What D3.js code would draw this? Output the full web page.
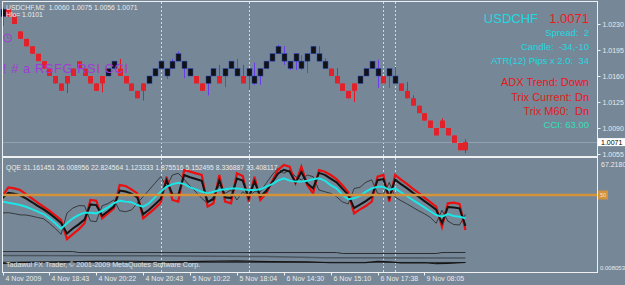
<!DOCTYPE html>
<html>
<head>
<meta charset="utf-8">
<script src="https://cdn.jsdelivr.net/npm/d3@7"></script>
<style>
html, body { margin: 0; padding: 0; background: #768797; }
svg { display: block; font-family: "Liberation Sans", Arial, sans-serif; }
</style>
</head>
<body>
<div id="chart"></div>
<script>
// USDCHF M2 bars (renko-like 10 pip boxes)
var opens = [1.0240,1.0250,1.0240,1.0220,1.0210,1.0200,1.0190,1.0180,1.0170,1.0160,
  1.0150,1.0160,1.0170,1.0180,1.0170,1.0160,1.0150,1.0160,1.0160,1.0170,
  1.0170,1.0160,1.0150,1.0140,1.0150,1.0150,1.0160,1.0170,1.0160,1.0170,
  1.0180,1.0170,1.0160,1.0160,1.0150,1.0150,1.0160,1.0160,1.0160,1.0170,
  1.0160,1.0160,1.0160,1.0150,1.0160,1.0170,1.0180,1.0190,1.0180,1.0170,
  1.0180,1.0170,1.0180,1.0190,1.0180,1.0170,1.0170,1.0160,1.0150,1.0140,
  1.0150,1.0150,1.0160,1.0170,1.0160,1.0160,1.0160,1.0150,1.0150,1.0140,
  1.0130,1.0120,1.0110,1.0100,1.0090,1.0100,1.0090,1.0080,1.0070,1.0071];
var closes = [1.0250,1.0240,1.0230,1.0210,1.0200,1.0190,1.0180,1.0170,1.0160,1.0150,
  1.0140,1.0150,1.0160,1.0170,1.0160,1.0150,1.0140,1.0150,1.0170,1.0180,
  1.0160,1.0150,1.0140,1.0130,1.0140,1.0160,1.0170,1.0180,1.0170,1.0180,
  1.0190,1.0180,1.0170,1.0150,1.0140,1.0160,1.0170,1.0150,1.0170,1.0180,
  1.0170,1.0150,1.0170,1.0160,1.0170,1.0180,1.0190,1.0200,1.0190,1.0180,
  1.0190,1.0180,1.0190,1.0200,1.0190,1.0180,1.0160,1.0150,1.0140,1.0130,
  1.0140,1.0160,1.0170,1.0180,1.0170,1.0150,1.0170,1.0160,1.0140,1.0130,
  1.0120,1.0110,1.0100,1.0090,1.0080,1.0090,1.0080,1.0070,1.0060,1.0060];
var highs = [1.0252,1.0250,1.0243,1.0220,1.0210,1.0200,1.0190,1.0180,1.0170,1.0160,
  1.0150,1.0160,1.0170,1.0180,1.0170,1.0160,1.0150,1.0160,1.0170,1.0180,
  1.0183,1.0160,1.0150,1.0140,1.0150,1.0160,1.0170,1.0180,1.0170,1.0183,
  1.0193,1.0180,1.0170,1.0160,1.0150,1.0160,1.0170,1.0175,1.0170,1.0180,
  1.0183,1.0175,1.0170,1.0178,1.0170,1.0180,1.0190,1.0202,1.0200,1.0180,
  1.0191,1.0188,1.0190,1.0200,1.0200,1.0184,1.0170,1.0171,1.0150,1.0140,
  1.0150,1.0160,1.0170,1.0180,1.0182,1.0160,1.0170,1.0172,1.0150,1.0152,
  1.0134,1.0120,1.0110,1.0100,1.0090,1.0103,1.0090,1.0080,1.0070,1.0075];
var lows = [1.0227,1.0240,1.0230,1.0210,1.0200,1.0190,1.0180,1.0170,1.0160,1.0150,
  1.0140,1.0137,1.0160,1.0170,1.0160,1.0150,1.0140,1.0138,1.0160,1.0170,
  1.0160,1.0150,1.0140,1.0130,1.0127,1.0150,1.0160,1.0170,1.0156,1.0170,
  1.0180,1.0157,1.0160,1.0150,1.0140,1.0134,1.0160,1.0150,1.0145,1.0170,
  1.0160,1.0150,1.0141,1.0148,1.0148,1.0170,1.0180,1.0190,1.0175,1.0168,
  1.0168,1.0168,1.0164,1.0190,1.0180,1.0170,1.0160,1.0150,1.0140,1.0130,
  1.0125,1.0150,1.0160,1.0170,1.0144,1.0150,1.0144,1.0150,1.0140,1.0130,
  1.0120,1.0110,1.0100,1.0090,1.0080,1.0090,1.0080,1.0070,1.0060,1.0056];

// QQE sub window
var qqeRsiMa = [45.2,44.4,43.7,42.7,41.5,39.8,37.9,36.2,33.1,29.5,
  25.6,29.5,33.1,35.5,37.2,37.2,36.7,38.6,41.0,44.0,
  45.9,45.2,44.8,42.7,41.5,44.0,48.3,52.4,56.0,57.9,
  58.9,57.9,55.5,54.1,52.4,51.2,52.4,53.6,54.1,54.8,
  54.8,54.1,53.6,53.6,54.1,56.0,57.9,60.4,62.1,60.4,
  59.7,59.7,60.4,61.4,62.1,60.4,57.2,54.8,50.0,46.9,
  47.6,49.3,52.4,54.8,56.0,56.0,53.6,54.8,51.9,49.3,
  46.4,43.7,41.0,38.2,35.5,34.3,36.2,34.8,34.3,33.1];
var qqeSlow = [47.9,51.6,50.9,49.8,47.5,44.9,42.1,39.6,36.7,33.3,
  29.7,22.1,25.7,28.7,32.2,43.2,42.7,35.0,38.2,41.6,
  53.2,52.5,51.0,48.2,36.0,39.3,43.1,47.2,60.7,50.4,
  50.0,64.5,62.9,61.6,60.3,45.0,46.9,60.7,48.3,47.8,
  61.9,60.4,48.1,59.9,49.1,52.9,59.1,65.4,68.3,67.0,
  58.9,66.7,58.4,54.8,66.0,64.6,61.9,59.2,54.6,50.2,
  40.5,43.0,45.6,48.6,60.7,61.5,48.1,61.1,57.9,55.0,
  51.7,48.8,45.6,42.6,39.4,29.6,41.3,41.0,40.3,27.6];
var qqeOuter = [49.3,55.5,54.8,53.6,50.7,47.6,44.4,41.5,38.6,35.3,
  31.9,18.1,21.7,25.1,29.5,46.4,45.9,33.1,36.7,40.3,
  57.2,56.5,54.1,51.2,33.1,36.7,40.3,44.4,63.3,46.4,
  45.2,68.1,66.9,65.7,64.5,41.6,44.0,64.5,45.2,44.0,
  65.7,63.8,45.2,63.3,46.4,51.2,59.7,68.1,71.7,70.5,
  58.5,70.5,57.3,51.2,68.1,66.9,64.5,61.5,57.0,52.0,
  36.7,39.6,42.0,45.2,63.3,64.5,45.2,64.5,61.1,58.0,
  54.6,51.5,48.1,44.9,41.5,27.0,44.0,44.4,43.5,24.6];
var qqeThin = [37.0,37.2,36.5,35.6,35.5,34.7,33.7,32.8,29.5,25.7,
  21.5,36.9,40.5,42.3,42.2,31.2,30.7,42.2,43.8,46.4,
  38.6,37.9,39.1,44.0,48.8,53.6,58.5,63.3,56.0,64.5,
  65.7,61.4,56.5,52.2,47.6,44.0,48.8,57.3,51.2,53.6,
  46.4,52.4,48.8,52.4,52.4,58.5,64.5,69.3,65.7,68.1,
  63.3,60.9,64.5,63.3,53.6,52.4,51.2,48.8,45.0,43.5,
  54.7,55.6,59.2,61.0,51.3,50.5,59.1,48.5,45.9,43.6,
  41.1,38.6,36.4,33.8,29.5,39.0,31.1,28.6,28.3,36.0];
// flat lines at the bottom of the QQE window: [bar, value]
var atrA = [[0,9.0],[12,9.0],[13,8.3],[57,8.3],[58,7.6],[74,7.6],[75,8.3],[79,8.34]];
var atrB = [[0,6.2],[25,6.0],[45,5.4],[55,4.5],[79,4.3]];
var atrC = [[0,0.4],[3,1.2],[10,1.5],[16,1.9],[22,2.0],[28,1.6],[34,1.9],[40,2.2],[46,1.7],
  [52,1.5],[56,0.9],[62,1.0],[64,2.0],[66,1.6],[68,0.8],[72,0.9],[74,0.2],[76,0.5],[79,1.1]];
var atrD = [[0,1.3],[40,1.2],[79,1.12]];
var qqeLevel = 50;

var priceTicks = [1.0230, 1.0195, 1.0160, 1.0125, 1.0090, 1.0055];
var bid = 1.0071;
var sepBars = [27, 42, 65, 67];
var timeBars = [0, 8, 16, 24, 32, 40, 48, 56, 64, 72];
var timeLabels = ["4 Nov 2009", "4 Nov 18:43", "4 Nov 20:22", "4 Nov 20:43", "5 Nov 10:22",
  "5 Nov 18:04", "6 Nov 14:30", "6 Nov 15:10", "6 Nov 17:38", "9 Nov 08:05"];

var infoCyan = [["Spread:  2", 36], ["Candle:  -34,-10", 50], ["ATR(12) Pips x 2.0:  34", 64]];
var infoRed = [["ADX Trend: Down", 86], ["Trix Current: Dn", 101], ["Trix M60:  Dn", 115]];

var W = 625, H = 285;
var left = 2, right = 597, mainTop = 1, mainBottom = 156, subTop = 157, subBottom = 272;

var svg = d3.select("#chart").append("svg").attr("width", W).attr("height", H);
svg.append("rect").attr("width", W).attr("height", H).attr("fill", "#768797");

var x = d3.scaleLinear().domain([0, 100]).range([2.5, 588.5]);
var y = d3.scaleLinear().domain([1.0055, 1.0230]).range([154, 24]);
var yq = d3.scaleLinear().domain([0, 50]).range([264, 195]);
var px = function (i) { return Math.round(x(i)) + 0.5; };

// period separators
svg.append("g").selectAll("line").data(sepBars).join("line")
  .attr("x1", d => px(d)).attr("x2", d => px(d))
  .attr("y1", mainTop + 1).attr("y2", subBottom)
  .attr("stroke", "#d4d9de").attr("stroke-dasharray", "2,2");

// bid line
svg.append("line").attr("x1", left).attr("x2", right)
  .attr("y1", Math.round(y(bid)) + 0.5).attr("y2", Math.round(y(bid)) + 0.5)
  .attr("stroke", "#93a2ae").attr("stroke-width", 1);

// candles
var bars = d3.range(opens.length);
var isUp = i => closes[i] > opens[i];
var cg = svg.append("g");
cg.selectAll("line").data(bars).join("line")
  .attr("x1", d => px(d)).attr("x2", d => px(d))
  .attr("y1", d => y(highs[d])).attr("y2", d => y(lows[d]))
  .attr("stroke", d => isUp(d) ? "#6a3ee6" : "#e01b24").attr("stroke-width", 1);
cg.selectAll("rect").data(bars).join("rect")
  .attr("x", d => px(d) - 2.5).attr("width", 5)
  .attr("y", d => y(Math.max(opens[d], closes[d])))
  .attr("height", d => Math.abs(y(opens[d]) - y(closes[d])))
  .attr("fill", d => isUp(d) ? "#121212" : "#e2222b")
  .attr("stroke", d => isUp(d) ? "#2a44c4" : "none").attr("stroke-width", 0.5);

// top-left labels
svg.append("text").attr("x", 6).attr("y", 9.5).attr("font-size", 6.8).attr("fill", "#ececec")
  .style("white-space", "pre").text("USDCHF,M2  1.0060 1.0075 1.0056 1.0071");
svg.append("text").attr("x", 6).attr("y", 16.7).attr("font-size", 6.8).attr("fill", "#ececec")
  .text("Hlo= 1.0101");
svg.append("circle").attr("cx", 7.5).attr("cy", 38).attr("r", 4)
  .attr("fill", "none").attr("stroke", "#a23bd6").attr("stroke-width", 1);
svg.append("path").attr("d", "M7.5,35.5V38H9.5").attr("fill", "none")
  .attr("stroke", "#a23bd6").attr("stroke-width", 0.8);
svg.append("text").attr("x", 3).attr("y", 73).attr("font-size", 13).attr("fill", "#a23bd6")
  .attr("letter-spacing", 0.5).style("white-space", "pre").text("! # a RSFG RSI CCI");

// info block
svg.append("text").attr("x", 538).attr("y", 23).attr("text-anchor", "end")
  .attr("font-size", 13).attr("fill", "#22d8e0").text("USDCHF");
svg.append("text").attr("x", 589).attr("y", 23).attr("text-anchor", "end")
  .attr("font-size", 13).attr("fill", "#f01c1c").text("1.0071");
svg.append("g").selectAll("text").data(infoCyan).join("text")
  .attr("x", 589).attr("y", d => d[1]).attr("text-anchor", "end")
  .attr("font-size", 9.5).attr("fill", "#22d8e0").style("white-space", "pre").text(d => d[0]);
svg.append("g").selectAll("text").data(infoRed).join("text")
  .attr("x", 589).attr("y", d => d[1]).attr("text-anchor", "end")
  .attr("font-size", 11).attr("fill", "#e41a1a").style("white-space", "pre").text(d => d[0]);
svg.append("text").attr("x", 589).attr("y", 128).attr("text-anchor", "end")
  .attr("font-size", 9.5).attr("fill", "#30e0b8").text("CCI: 63.00");

// QQE window
var qline = d3.line().x((d, i) => x(i)).y(d => yq(d));
var sline = d3.line().x(d => x(d[0])).y(d => yq(d[1]));
var qg = svg.append("g");
qg.append("path").attr("d", sline(atrA)).attr("fill", "none").attr("stroke", "#2b2f33").attr("stroke-width", 1);
qg.append("path").attr("d", sline(atrB)).attr("fill", "none").attr("stroke", "#4c5660").attr("stroke-width", 1.6);
qg.append("path").attr("d", sline(atrD)).attr("fill", "none").attr("stroke", "#2b2f33").attr("stroke-width", 1);
qg.append("path").attr("d", sline(atrC)).attr("fill", "none").attr("stroke", "#151515").attr("stroke-width", 1.2);
qg.append("path").attr("d", qline(qqeThin)).attr("fill", "none").attr("stroke", "#262626").attr("stroke-width", 0.8);
qg.append("path").attr("d", qline(qqeOuter)).attr("fill", "none").attr("stroke", "#ea1010").attr("stroke-width", 2.2);
qg.append("path").attr("d", qline(qqeSlow)).attr("fill", "none").attr("stroke", "#131313").attr("stroke-width", 2);
qg.append("path").attr("d", qline(qqeRsiMa)).attr("fill", "none").attr("stroke", "#1ae6e6").attr("stroke-width", 2);
svg.append("line").attr("x1", left).attr("x2", right)
  .attr("y1", yq(qqeLevel)).attr("y2", yq(qqeLevel))
  .attr("stroke", "#d4923a").attr("stroke-width", 2.5);
svg.append("rect").attr("x", 598).attr("y", yq(qqeLevel) - 4.5).attr("width", 10).attr("height", 9)
  .attr("fill", "#d4923a");
svg.append("text").attr("x", 603).attr("y", yq(qqeLevel) + 2).attr("text-anchor", "middle")
  .attr("font-size", 5.5).attr("fill", "#f4e6cc").text("50");

svg.append("text").attr("x", 6).attr("y", 169.5).attr("font-size", 6.8).attr("fill", "#ececec")
  .text("QQE 31.161451 26.008956 22.824564 1.123333 1.875516 5.152495 8.336887 33.408117");
svg.append("text").attr("x", 6).attr("y", 267).attr("font-size", 7.1).attr("fill", "#e4e4e4")
  .text("Tadawul FX Trader, \u00a9 2001-2009 MetaQuotes Software Corp.");

// frames
var fg = svg.append("g").attr("fill", "none").attr("stroke", "#eef0f2").attr("stroke-width", 1);
fg.append("rect").attr("x", left + 0.5).attr("y", mainTop + 0.5)
  .attr("width", right - left).attr("height", mainBottom - mainTop);
fg.append("rect").attr("x", left + 0.5).attr("y", subTop + 0.5)
  .attr("width", right - left).attr("height", subBottom - subTop);

// price axis
var pa = svg.append("g").attr("transform", "translate(" + (right + 0.5) + ",0)")
  .call(d3.axisRight(y).tickValues(priceTicks).tickSize(3).tickPadding(2).tickFormat(d3.format(".4f")));
pa.select(".domain").remove();
pa.selectAll("line").attr("stroke", "#eef0f2");
pa.selectAll("text").attr("fill", "#eaeaea").attr("font-size", 7).attr("font-family", "Liberation Sans, Arial, sans-serif");

// bid box
svg.append("rect").attr("x", 598).attr("y", y(bid) - 4).attr("width", 27).attr("height", 8).attr("fill", "#ffffff");
svg.append("text").attr("x", 601).attr("y", y(bid) + 2.5).attr("font-size", 7).attr("fill", "#000").text("1.0071");

// QQE scale labels
svg.append("text").attr("x", 601).attr("y", 166.5).attr("font-size", 7).attr("fill", "#eaeaea").text("67.2180");
svg.append("text").attr("x", 600).attr("y", 269.5).attr("font-size", 6).attr("fill", "#eaeaea").text("0.008053");

// time axis
var ta = svg.append("g").attr("transform", "translate(0," + (subBottom + 0.5) + ")")
  .call(d3.axisBottom(x).tickValues(timeBars).tickSize(3).tickFormat((d, i) => timeLabels[i]));
ta.select(".domain").remove();
ta.selectAll(".tick").attr("transform", d => "translate(" + px(d) + ",0)");
ta.selectAll("line").attr("stroke", "#eef0f2");
ta.selectAll("text").attr("fill", "#eaeaea").attr("font-size", 7).attr("text-anchor", "start")
  .attr("x", 2).attr("y", 6).attr("dy", "0.35em").attr("font-family", "Liberation Sans, Arial, sans-serif");
</script>
</body>
</html>
